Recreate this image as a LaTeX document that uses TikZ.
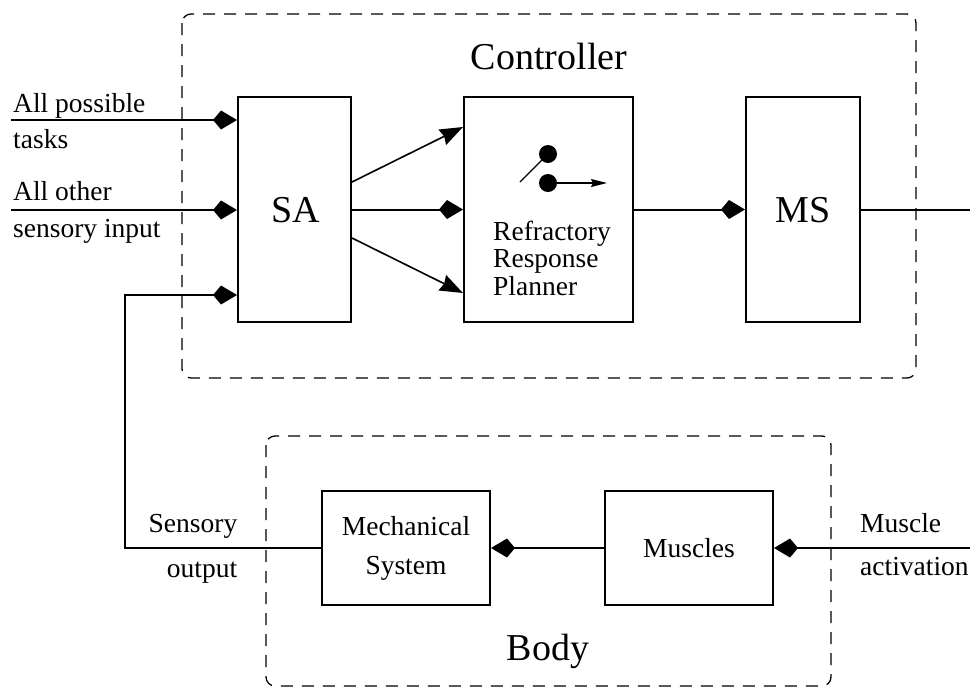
\documentclass[tikz,border=0pt]{standalone}
\usepackage{fontspec}
\setmainfont{Liberation Serif}
\usetikzlibrary{arrows.meta}
\begin{document}
\begin{tikzpicture}[x=1pt,y=-1pt,
  box/.style={draw, line width=2pt, inner sep=0pt},
  wire/.style={line width=2pt},
  kite/.style={wire, -{Kite[length=24pt,width=19pt,inset=8pt]}},
  tri/.style={line width=1.6pt, -{Stealth[length=23pt,width=17pt,inset=2pt]}},
  dashbox/.style={line width=1.3pt, dash pattern=on 12pt off 9pt, rounded corners=9pt},
  big/.style={font=\fontsize{38}{44}\selectfont},
  small/.style={font=\fontsize{27.5}{39}\selectfont},
  lbl/.style={small, inner sep=0pt}]
\useasboundingbox (0,0) rectangle (970,689);

% dashed frames
\draw[dashbox] (182,14) rectangle (916,378);
\draw[dashbox] (266,436) rectangle (831,686);
\node[big, inner sep=0pt, anchor=base] (ctrl) at (549,69) {Controller};
\node[big, inner sep=0pt, anchor=base] (body) at (548,660) {Body};

% blocks
\node[box, minimum width=113pt, minimum height=225pt] (SA) at (294.5,209.5) {};
\node[big, inner sep=0pt, anchor=base] (SAt) at (296,222) {SA};
\node[box, minimum width=169pt, minimum height=225pt] (RRP) at (548.5,209.5) {};
\node[box, minimum width=114pt, minimum height=225pt] (MS) at (803,209.5) {};
\node[big, inner sep=0pt, anchor=base] (MSt) at (803,222) {MS};
\node[box, small, align=center, minimum width=168pt, minimum height=114pt] (Mech) at (406,548) {Mechanical\\System};
\node[box, small, minimum width=168pt, minimum height=114pt] (Mus) at (689,548) {Muscles};

% refractory text
\node[lbl, anchor=base west] (r1) at (493,240) {Refractory};
\node[lbl, anchor=base west] (r2) at (493,267) {Response};
\node[lbl, anchor=base west] (r3) at (493,295) {Planner};

% switch icon
\coordinate (d1) at (548,154);
\coordinate (d2) at (548,183);
\coordinate (sw) at (520,182);
\coordinate (swend) at (607,183);
\fill (d1) circle (9pt);
\fill (d2) circle (9pt);
\draw[line width=1.3pt] (sw) -- (d1);
\draw[line width=1.3pt, -{Stealth[length=16pt,width=8pt,inset=2pt]}] (d2) -- (swend);

% inputs
\coordinate (t1) at (11,120);
\coordinate (t2) at (11,210);
\coordinate (fb) at (125,295);
\draw[kite] (t1) -- (t1 -| SA.west);
\draw[kite] (t2) -- (t2 -| SA.west);
\draw[kite] (Mech.west) -| (fb) -- (fb -| SA.west);

% SA to planner
\draw[kite] (SA.east) -- (RRP.west);
\draw[tri] ([yshift=27.5pt]SA.east) -- ([yshift=82.5pt]RRP.west);
\draw[tri] ([yshift=-28.5pt]SA.east) -- ([yshift=-83.5pt]RRP.west);

% planner to MS and out
\coordinate (out) at (970,209.5);
\draw[kite] (RRP.east) -- (MS.west);
\draw[wire] (MS.east) -- (out);

% body
\coordinate (act) at (970,548);
\draw[kite] (Mus.west) -- (Mech.east);
\draw[kite] (act) -- (Mus.east);

% labels
\node[lbl, anchor=base west] (l1) at (13,112) {All possible};
\node[lbl, anchor=base west] (l2) at (13,148) {tasks};
\node[lbl, anchor=base west] (l3) at (13,200) {All other};
\node[lbl, anchor=base west] (l4) at (13,237) {sensory input};
\node[lbl, anchor=base] (s1) at (193,532) {Sensory};
\node[lbl, anchor=base] (s2) at (202,577) {output};
\node[lbl, anchor=base west] (m1) at (860,532) {Muscle};
\node[lbl, anchor=base west] (m2) at (860,575) {activation};
\end{tikzpicture}
\end{document}
